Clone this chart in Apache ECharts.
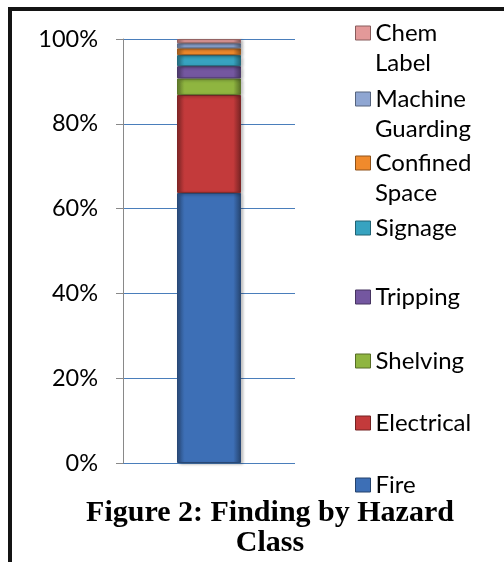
<!DOCTYPE html>
<html lang="en">
<head>
    <meta charset="utf-8">
    <title>Finding by Hazard Class</title>
    <style>
        html, body { margin: 0; padding: 0; background: #fff; overflow: hidden; width: 504px; height: 562px; }
        #frame {
            position: absolute; left: 8px; top: 7px; width: 600px; height: 700px;
            border-top: 4px solid #141414; border-left: 4px solid #141414;
        }
        #chart { position: absolute; left: 0; top: 0; width: 504px; height: 562px; }
    </style>
</head>
<body>
<div id="frame"></div>
<div id="chart"></div>
<script src="https://cdn.jsdelivr.net/npm/echarts@6.0.0/dist/echarts.min.js"></script>
<script type="text/javascript">

// hazard classes, bottom to top of the stacked bar
var hazards = ['Fire', 'Electrical', 'Shelving', 'Tripping', 'Signage', 'Confined Space', 'Machine Guarding', 'Chem Label'];
// share of findings (%)
var shares = [63.7, 23.1, 3.9, 2.9, 2.6, 1.6, 1.2, 1.0];
var colors = ['#3d6fb6', '#c33a3b', '#8fb540', '#7457a0', '#37a3c0', '#f08a2c', '#8fa6d2', '#e39999'];
var yTicks = [0, 20, 40, 60, 80, 100];

// legend icon centres (px from top)
var legendY = [485, 423, 361, 297, 228, 163, 99, 33];
var legendLeft = 355;
var iconW = 15;

function shade(hex, f) {
    var n = parseInt(hex.slice(1), 16);
    var r = (n >> 16) & 255, g = (n >> 8) & 255, b = n & 255;
    var m = function (c) { return Math.max(0, Math.min(255, Math.round(f < 1 ? c * f : c + (255 - c) * (f - 1)))); };
    return 'rgb(' + m(r) + ',' + m(g) + ',' + m(b) + ')';
}

var series = hazards.map(function (name, i) {
    var c = colors[i];
    return {
        name: name,
        type: 'bar',
        stack: 'all',
        barWidth: 64,
        data: [shares[i]],
        itemStyle: {
            color: new echarts.graphic.LinearGradient(0, 0, 1, 0, [
                { offset: 0, color: shade(c, 0.7) },
                { offset: 0.12, color: c },
                { offset: 0.88, color: c },
                { offset: 1, color: shade(c, 0.6) }
            ]),
            borderColor: shade(c, 0.65),
            borderWidth: 1,
            shadowColor: 'rgba(0,0,0,0.25)',
            shadowBlur: 3,
            shadowOffsetX: 2,
            shadowOffsetY: 1
        }
    };
});

// one legend per entry so each sits where it does in the picture;
// long names wrap, the second word goes on the next line below
var legends = hazards.map(function (name, i) {
    return {
        orient: 'vertical',
        left: legendLeft,
        top: legendY[i] - 15,
        padding: 0,
        icon: 'rect',
        itemWidth: iconW,
        itemHeight: 14,
        selectedMode: false,
        data: [{ name: name, itemStyle: { color: colors[i], borderColor: shade(colors[i], 0.6), borderWidth: 1 } }],
        formatter: function (n) { return n.split(' ')[0]; },
        textStyle: { fontFamily: 'Lato', fontSize: 24, color: '#000', lineHeight: 30 }
    };
});

var wrapped = [];
hazards.forEach(function (name, i) {
    var parts = name.split(' ');
    if (parts.length > 1) {
        wrapped.push({
            type: 'text',
            x: legendLeft + iconW + 5,
            y: legendY[i] + 30,
            style: {
                text: parts.slice(1).join(' '),
                font: '24px Lato',
                fill: '#000',
                verticalAlign: 'middle'
            }
        });
    }
});

var chart = echarts.init(document.getElementById('chart'));
chart.setOption({
    animation: false,
    title: {
        text: 'Figure 2: Finding by Hazard\nClass',
        left: 270,
        textAlign: 'center',
        top: 498,
        padding: 0,
        textStyle: {
            fontFamily: 'Liberation Serif',
            fontWeight: 'bold',
            fontSize: 30,
            lineHeight: 30,
            color: '#000'
        }
    },
    legend: legends,
    graphic: wrapped,
    grid: { left: 123, right: 209, top: 39, bottom: 99 },
    xAxis: {
        type: 'category',
        data: ['Findings'],
        axisLine: { show: false },
        axisTick: { show: false },
        axisLabel: { show: false }
    },
    yAxis: {
        type: 'value',
        min: yTicks[0],
        max: yTicks[yTicks.length - 1],
        interval: yTicks[1] - yTicks[0],
        axisLine: { show: true, lineStyle: { color: '#898989' } },
        axisTick: { show: true, length: 7, lineStyle: { color: '#898989' } },
        axisLabel: {
            formatter: '{value}%',
            margin: 25,
            fontFamily: 'Lato',
            fontSize: 23.5,
            color: '#000'
        },
        splitLine: { lineStyle: { color: '#4a7ebb', width: 1 } }
    },
    series: series
});

</script>
</body>
</html>
